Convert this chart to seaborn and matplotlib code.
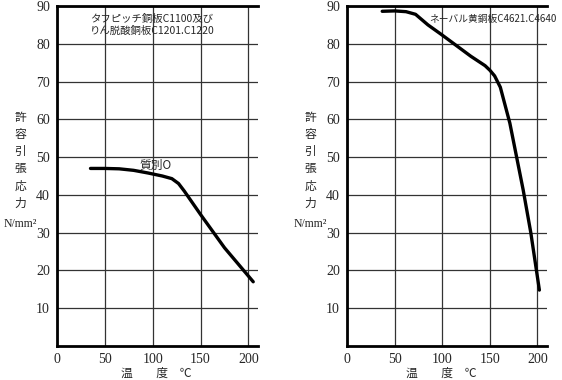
import matplotlib
matplotlib.use("Agg")
import matplotlib.pyplot as plt
import seaborn as sns

# tough pitch / phosphorus-deoxidized copper plate
temp_left = [35, 50, 65, 80, 95, 110, 120, 127, 133, 150, 175, 205]
stress_left = [47.0, 47.0, 46.9, 46.5, 45.8, 45.0, 44.3, 43.0, 41.0, 34.8, 26.0, 17.0]
title_left = "タフピッチ銅板C1100及び\nりん脱酸銅板C1201.C1220"
label_left = "質別O"

# naval brass plate
temp_right = [37, 50, 62, 72, 85, 100, 115, 130, 145, 150, 155, 161, 171, 185, 193, 202]
stress_right = [88.6, 88.7, 88.5, 87.8, 85.0, 82.3, 79.5, 76.7, 74.2, 73.0, 71.5, 68.5, 59.0, 41.3, 30.0, 14.8]
title_right = "ネーバル黄銅板C4621.C4640"

x_ticks = [0, 50, 100, 150, 200]
y_ticks = [10, 20, 30, 40, 50, 60, 70, 80, 90]
ylabel_chars = "許\n容\n引\n張\n応\n力"
unit = "N/mm²"
xlabel = "温　　度　℃"

JP = ["Noto Sans CJK JP", "DejaVu Sans"]
NUM = "Liberation Serif"


def draw_panel(ax, xs, ys):
    sns.lineplot(x=xs, y=ys, ax=ax, color="black", linewidth=2.4, estimator=None)
    ax.set_xlim(0, 210)
    ax.set_ylim(0, 90)
    ax.set_xticks(x_ticks)
    ax.set_yticks(y_ticks)
    ax.set_xticklabels([str(t) for t in x_ticks], fontfamily=NUM, fontsize=10)
    ax.set_yticklabels([str(t) for t in y_ticks], fontfamily=NUM, fontsize=10)
    ax.tick_params(length=0, pad=5)
    ax.grid(True, color="#333333", linewidth=0.9)
    ax.set_axisbelow(True)
    for side in ("left", "bottom", "top"):
        ax.spines[side].set_linewidth(2.0)
        ax.spines[side].set_color("black")
    ax.spines["right"].set_visible(False)
    ax.set_xlabel("")
    ax.set_ylabel("")
    ax.set_facecolor("white")


sns.set_style("white")
fig = plt.figure(figsize=(5.62, 3.8), dpi=100)
ax1 = fig.add_axes([0.1014, 0.0895, 0.3577, 0.8947])
ax2 = fig.add_axes([0.6174, 0.0895, 0.3559, 0.8947])

draw_panel(ax1, temp_left, stress_left)
draw_panel(ax2, temp_right, stress_right)

ax1.text(99, 85, title_left, ha="center", va="center", fontsize=7.5,
         family=JP, linespacing=1.3)
ax1.text(103, 47.8, label_left, ha="center", va="center", fontsize=8.5, family=JP)
ax2.text(153, 86.6, title_right, ha="center", va="center", fontsize=7,
         family=JP, clip_on=False)

for xf in (0.036, 0.552):
    fig.text(xf, 0.578, ylabel_chars, ha="center", va="center", fontsize=8.5,
             family=JP, linespacing=1.42)
for xf in (0.036, 0.552):
    fig.text(xf, 0.41, unit, ha="center", va="center", fontsize=8.5,
             family=[NUM, "DejaVu Sans"])

fig.text(0.278, 0.018, xlabel, ha="center", va="center", fontsize=8.5, family=JP)
fig.text(0.785, 0.018, xlabel, ha="center", va="center", fontsize=8.5, family=JP)

fig.savefig("out.png", dpi=100, facecolor="white")
plt.close(fig)
